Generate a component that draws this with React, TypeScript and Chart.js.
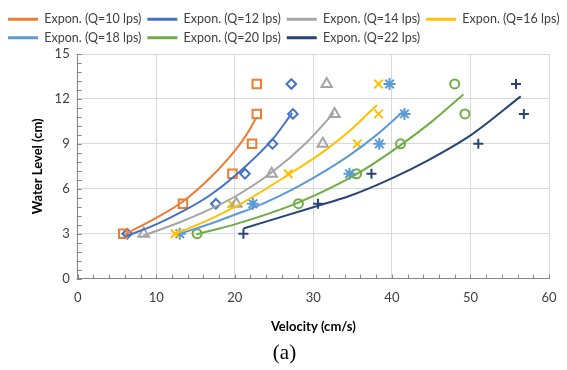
import React, { useEffect, useRef } from "react";
import { Chart, registerables } from "chart.js";

Chart.register(...registerables);

// ---------- data ----------
const LEVELS = [3, 5, 7, 9, 11, 13];

const Q10_V = [5.8, 13.4, 19.7, 22.2, 22.8, 22.8];
const Q12_V = [6.3, 17.6, 21.3, 24.8, 27.4, 27.2];
const Q14_V = [8.4, 20.2, 24.7, 31.2, 32.7, 31.7];
const Q16_V = [12.4, 19.6, 26.8, 35.6, 38.3, 38.3];
const Q18_V = [13.0, 22.3, 34.6, 38.4, 41.6, 39.7];
const Q20_V = [15.2, 28.1, 35.5, 41.1, 49.3, 48.0];
const Q22_V = [21.1, 30.6, 37.4, 51.0, 56.8, 55.8];

// trend curves
const T10_X = [6.0, 10.0, 13.4, 16.8, 20.1, 21.6, 22.8];
const T10_Y = [2.96, 4.06, 5.15, 6.7, 8.6, 9.7, 10.8];
const T12_X = [6.2, 10.0, 13.4, 16.8, 20.1, 24.8, 27.3];
const T12_Y = [2.85, 3.62, 4.5, 5.55, 6.9, 9.3, 11.07];
const T14_X = [8.3, 13.4, 16.8, 20.1, 24.6, 29.0, 32.6];
const T14_Y = [2.85, 3.85, 4.62, 5.5, 7.05, 9.02, 11.07];
const T16_X = [12.35, 16.8, 20.6, 26.7, 31.6, 34.5, 38.1];
const T16_Y = [2.96, 3.95, 4.95, 6.9, 8.6, 9.8, 11.6];
const T18_X = [12.8, 16.8, 20.4, 22.3, 28.2, 34.5, 38.3, 41.5];
const T18_Y = [2.96, 3.65, 4.35, 4.72, 6.2, 8.2, 9.7, 11.2];
const T20_X = [15.1, 20.1, 28.0, 35.5, 40.8, 45.0, 49.1];
const T20_Y = [2.96, 3.64, 5.06, 6.98, 8.8, 10.45, 12.3];
const T22_X = [21.1, 30.3, 34.5, 39.5, 44.6, 50.1, 56.4];
const T22_Y = [3.35, 4.82, 5.5, 6.58, 7.9, 9.6, 12.17];

const SERIES_NAMES = ["Q=10 lps", "Q=12 lps", "Q=14 lps", "Q=16 lps", "Q=18 lps", "Q=20 lps", "Q=22 lps"];
const COLORS = ["#ED7D31", "#4472C4", "#A5A5A5", "#FFC000", "#5B9BD5", "#70AD47", "#264478"];
const MARKERS = ["rect", "rectRot", "triangle", "crossRot", "star", "circle", "cross"];
const MARKER_R = [6, 4.8, 6, 6, 6, 4.5, 5];

const VELS = [Q10_V, Q12_V, Q14_V, Q16_V, Q18_V, Q20_V, Q22_V];
const TX = [T10_X, T12_X, T14_X, T16_X, T18_X, T20_X, T22_X];
const TY = [T10_Y, T12_Y, T14_Y, T16_Y, T18_Y, T20_Y, T22_Y];

const X_MIN = 0, X_MAX = 60, X_STEP = 10, X_MINOR = 2;
const Y_MIN = 0, Y_MAX = 15, Y_STEP = 3, Y_MINOR = 0.6;

const FONT = "Lato, 'Liberation Sans', sans-serif";

const minorTicks = {
  id: "minorTicks",
  afterDraw(chart: any) {
    const { ctx, chartArea, scales } = chart;
    const x = scales.x, y = scales.y;
    ctx.save();
    ctx.strokeStyle = "#868686";
    ctx.lineWidth = 1;
    ctx.beginPath();
    for (let i = 0; i <= Math.round((X_MAX - X_MIN) / X_MINOR); i++) {
      const px = Math.round(x.getPixelForValue(X_MIN + i * X_MINOR)) + 0.5;
      ctx.moveTo(px, chartArea.bottom);
      ctx.lineTo(px, chartArea.bottom - 4);
    }
    for (let i = 0; i <= Math.round((Y_MAX - Y_MIN) / Y_MINOR); i++) {
      const py = Math.round(y.getPixelForValue(Y_MIN + i * Y_MINOR)) + 0.5;
      ctx.moveTo(chartArea.left - 1, py);
      ctx.lineTo(chartArea.left + 4, py);
    }
    ctx.stroke();
    ctx.restore();
  },
};

export default function App() {
  const ref = useRef<HTMLCanvasElement | null>(null);

  useEffect(() => {
    document.body.style.margin = "0";
    const canvas = ref.current;
    if (!canvas) return;

    const trendSets = SERIES_NAMES.map((n, i) => ({
      label: `Expon. (${n})`,
      data: TX[i].map((xv, j) => ({ x: xv, y: TY[i][j] })),
      showLine: true,
      borderColor: COLORS[i],
      backgroundColor: COLORS[i],
      borderWidth: 2,
      pointRadius: 0,
      cubicInterpolationMode: "monotone" as const,
    }));

    const markerSets = SERIES_NAMES.map((n, i) => ({
      label: n,
      data: VELS[i].map((v, j) => ({ x: v, y: LEVELS[j] })),
      showLine: false,
      pointStyle: MARKERS[i],
      pointRadius: MARKER_R[i],
      borderColor: COLORS[i],
      backgroundColor: "rgba(0,0,0,0)",
      pointBorderWidth: 2,
      borderWidth: 2,
    }));

    const defaultLabels = (Chart as any).defaults.plugins.legend.labels.generateLabels;

    const chart = new Chart(canvas, {
      type: "scatter",
      data: { datasets: [...trendSets, ...markerSets] as any },
      options: {
        animation: false,
        responsive: false,
        layout: { padding: { left: 2, right: 0, top: 7, bottom: 4 } },
        plugins: {
          legend: {
            position: "top",
            align: "start",
            labels: {
              generateLabels: (c: any) =>
                defaultLabels(c)
                  .filter((it: any) => String(it.text).startsWith("Expon"))
                  .map((it: any) => ({ ...it, lineWidth: 0 })),
              boxWidth: 30,
              boxHeight: 3,
              font: { family: FONT, size: 12.5 },
              color: "#404040",
              padding: 6,
            },
          },
          title: {
            display: true,
            position: "bottom",
            text: "(a)",
            font: { family: "'Liberation Serif', serif", size: 21, weight: "normal" },
            color: "#000",
            padding: { top: 6, bottom: 0 },
          },
          tooltip: { enabled: false },
        },
        scales: {
          x: {
            type: "linear",
            min: X_MIN,
            max: X_MAX,
            ticks: { stepSize: X_STEP, color: "#404040", font: { family: FONT, size: 13 }, padding: 11 },
            grid: { color: "#d9d9d9", drawTicks: false },
            border: { color: "#868686", width: 1 },
            title: {
              display: true,
              text: "Velocity (cm/s)",
              color: "#000",
              font: { family: FONT, size: 13, weight: "bold" },
              padding: { top: 3, bottom: 0 },
            },
            afterFit: (s: any) => {
              s.paddingRight = 18;
            },
          },
          y: {
            type: "linear",
            min: Y_MIN,
            max: Y_MAX,
            ticks: { stepSize: Y_STEP, color: "#404040", font: { family: FONT, size: 13 }, padding: 8 },
            grid: { color: "#d9d9d9", drawTicks: false },
            border: { color: "#868686", width: 1 },
            title: {
              display: true,
              text: "Water Level (cm)",
              color: "#000",
              font: { family: FONT, size: 13, weight: "bold" },
              padding: { top: 28, bottom: 1 },
            },
          },
        },
      } as any,
      plugins: [minorTicks],
    });

    return () => chart.destroy();
  }, []);

  return (
    <div style={{ width: 567, height: 370, background: "#fff" }}>
      <canvas ref={ref} width={567} height={370} style={{ display: "block" }} />
    </div>
  );
}
